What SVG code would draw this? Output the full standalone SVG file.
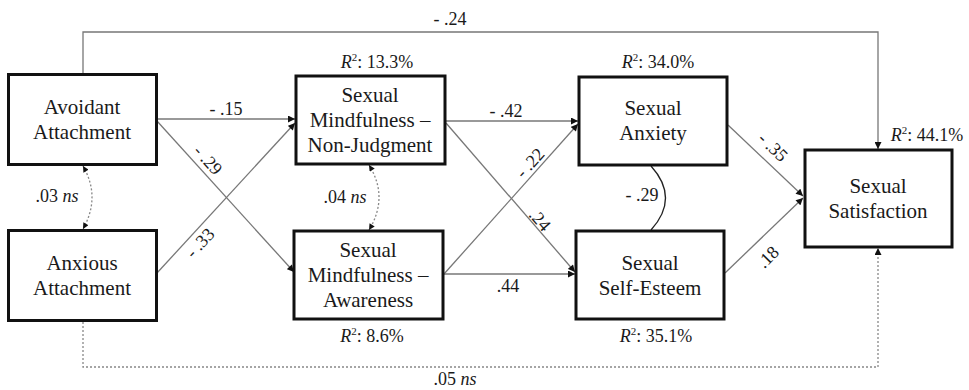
<svg xmlns="http://www.w3.org/2000/svg" width="969" height="390" viewBox="0 0 969 390" font-family="Liberation Serif, Times New Roman, Times, DejaVu Serif, Noto Serif, serif">
<defs>
<marker id="arr" viewBox="0 0 10 10" refX="10" refY="5" markerWidth="8" markerHeight="7" markerUnits="userSpaceOnUse" orient="auto-start-reverse">
<path d="M0,0 L10,5 L0,10 z" fill="#111"/>
</marker>
<marker id="arrs" viewBox="0 0 10 10" refX="10" refY="5" markerWidth="7" markerHeight="6" markerUnits="userSpaceOnUse" orient="auto-start-reverse">
<path d="M0,0 L10,5 L0,10 z" fill="#111"/>
</marker>
</defs>
<style>
.box{fill:#fff;stroke:#111;stroke-width:3}
text{font-family:"Liberation Serif","Times New Roman",Times,"DejaVu Serif","Noto Serif",serif}
.t{font-size:21px;fill:#1a1a1a;text-anchor:middle}
.l{font-size:18px;fill:#1a1a1a;text-anchor:middle}
.c{fill:none;stroke:#777;stroke-width:1.3;marker-end:url(#arr)}
.d{fill:none;stroke:#888;stroke-width:1.3;stroke-dasharray:2,2}
</style>
<rect width="969" height="390" fill="#fff"/>
<g id="connectors">
<polyline class="c" points="83,73 83,32 878,32 878,149"/>
<polyline class="d" points="83,322 83,367 878,367 878,248" style="marker-end:url(#arr)"/>
<line class="c" x1="157" y1="119" x2="295" y2="119"/>
<line class="c" x1="157" y1="121" x2="294" y2="272"/>
<line class="c" x1="157" y1="273" x2="295" y2="123"/>
<line class="c" x1="446" y1="121" x2="578" y2="121"/>
<line class="c" x1="446" y1="123" x2="575" y2="272"/>
<line class="c" x1="444" y1="274" x2="578" y2="124"/>
<line class="c" x1="444" y1="274" x2="575" y2="274"/>
<line class="c" x1="728" y1="125" x2="803" y2="196"/>
<line class="c" x1="725" y1="273" x2="803" y2="198"/>
<path class="d" d="M83,166 Q101,197 83,229" style="marker-start:url(#arrs);marker-end:url(#arrs)"/>
<path class="d" d="M369,165 Q389,197 369,230" style="marker-start:url(#arrs);marker-end:url(#arrs)"/>
<path d="M651,166 Q680,198 651,230" fill="none" stroke="#222" stroke-width="1.3"/>
<text class="l" x="450" y="25">- .24</text>
<text class="l" x="455" y="385"><tspan>.05 </tspan><tspan font-style="italic">ns</tspan></text>
<text class="l" x="226" y="115">- .15</text>
<text class="l" x="506" y="117">- .42</text>
<text class="l" x="508" y="292">.44</text>
<text class="l" x="57" y="202"><tspan>.03 </tspan><tspan font-style="italic">ns</tspan></text>
<text class="l" x="345" y="203"><tspan>.04 </tspan><tspan font-style="italic">ns</tspan></text>
<text class="l" x="642" y="201">- .29</text>
<text class="l" transform="translate(208,160) rotate(48)" y="6">- .29</text>
<text class="l" transform="translate(200,243) rotate(-47)" y="6">- .33</text>
<text class="l" transform="translate(530,163) rotate(-47.5)" y="6">- .22</text>
<text class="l" transform="translate(540,220) rotate(49)" y="6">.24</text>
<text class="l" transform="translate(773,147) rotate(44)" y="6">- .35</text>
<text class="l" transform="translate(768,257) rotate(-45)" y="6">.18</text>
</g>
<g id="avoidant">
<rect class="box" x="8.5" y="74.5" width="148" height="90"/>
<text class="t" x="82" y="114">Avoidant</text>
<text class="t" x="82" y="139">Attachment</text>
</g>
<g id="anxious">
<rect class="box" x="8.5" y="230.5" width="148" height="90"/>
<text class="t" x="82" y="270">Anxious</text>
<text class="t" x="82" y="295">Attachment</text>
</g>
<g id="nonjudgment">
<rect class="box" x="296" y="76" width="149" height="88"/>
<text class="t" x="370" y="102">Sexual</text>
<text class="t" x="370" y="127">Mindfulness –</text>
<text class="t" x="370" y="152">Non-Judgment</text>
<text class="l" x="377" y="68"><tspan font-style="italic">R</tspan><tspan font-size="11" dy="-7">2</tspan><tspan dy="7">: 13.3%</tspan></text>
</g>
<g id="awareness">
<rect class="box" x="294" y="231" width="149" height="88"/>
<text class="t" x="368" y="257">Sexual</text>
<text class="t" x="368" y="282">Mindfulness –</text>
<text class="t" x="368" y="307">Awareness</text>
<text class="l" x="372" y="342"><tspan font-style="italic">R</tspan><tspan font-size="11" dy="-7">2</tspan><tspan dy="7">: 8.6%</tspan></text>
</g>
<g id="anxiety">
<rect class="box" x="579" y="77" width="148" height="88"/>
<text class="t" x="653" y="115">Sexual</text>
<text class="t" x="653" y="140">Anxiety</text>
<text class="l" x="658" y="68"><tspan font-style="italic">R</tspan><tspan font-size="11" dy="-7">2</tspan><tspan dy="7">: 34.0%</tspan></text>
</g>
<g id="selfesteem">
<rect class="box" x="576" y="231" width="148" height="88"/>
<text class="t" x="650" y="270">Sexual</text>
<text class="t" x="650" y="295">Self-Esteem</text>
<text class="l" x="656" y="342"><tspan font-style="italic">R</tspan><tspan font-size="11" dy="-7">2</tspan><tspan dy="7">: 35.1%</tspan></text>
</g>
<g id="satisfaction">
<rect class="box" x="805" y="150" width="147" height="97"/>
<text class="t" x="878" y="193">Sexual</text>
<text class="t" x="878" y="218">Satisfaction</text>
<text class="l" x="927" y="141"><tspan font-style="italic">R</tspan><tspan font-size="11" dy="-7">2</tspan><tspan dy="7">: 44.1%</tspan></text>
</g>
</svg>
